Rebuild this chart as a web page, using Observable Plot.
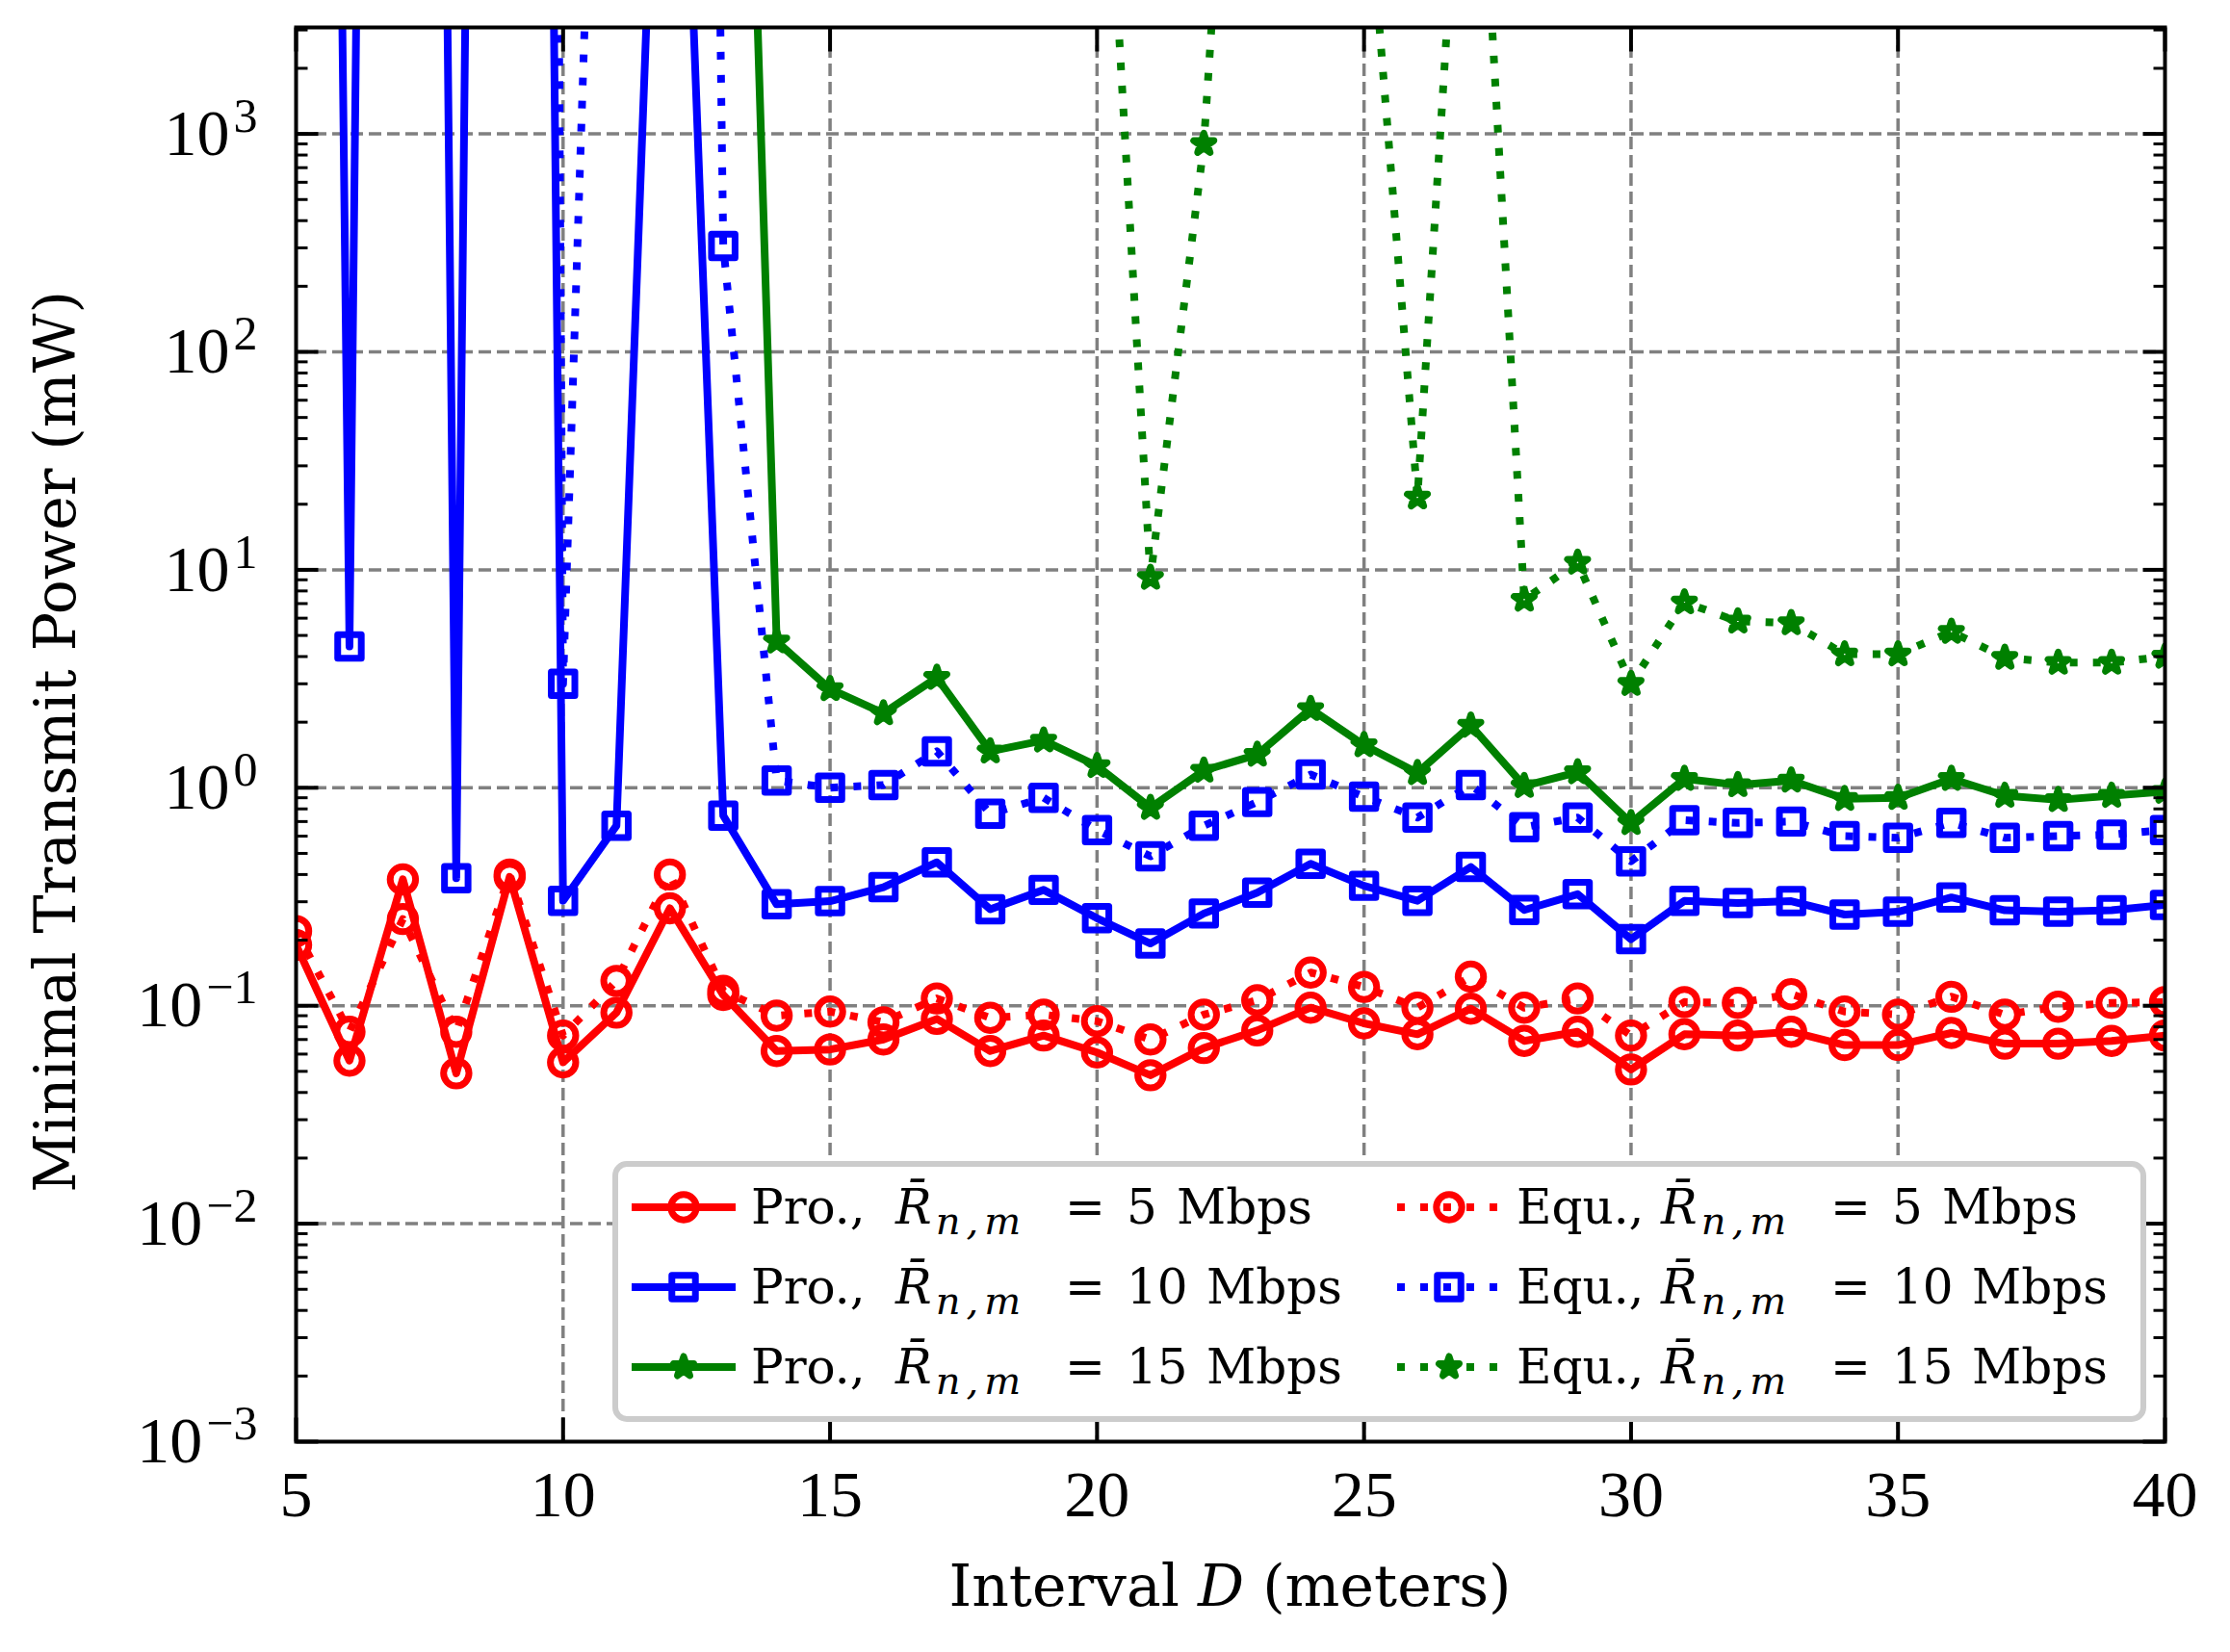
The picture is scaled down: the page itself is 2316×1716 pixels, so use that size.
<!DOCTYPE html>
<html>
<head>
<meta charset="utf-8">
<script src="https://cdn.jsdelivr.net/npm/d3@7"></script>
<script src="https://cdn.jsdelivr.net/npm/@observablehq/plot@0.6"></script>
<style>
  html, body { margin: 0; padding: 0; background: #fff; }
  #chart svg { display: block; }
</style>
</head>
<body>
<div id="chart"></div>
<script>
// ---------------- data ----------------
const distance = [5,6,7,8,9,10,11,12,13,14,15,16,17,18,19,20,21,22,23,24,25,26,27,28,29,30,31,32,33,34,35,36,37,38,39,40];

// Proposed scheme
const proR5  = [0.19,0.056,0.38,0.049,0.39,0.055,0.093,0.28,0.112,0.062,
                0.063,0.070,0.087,0.062,0.073,0.061,0.048,0.064,0.077,0.098,
                0.083,0.074,0.097,0.069,0.076,0.051,0.074,0.073,0.076,0.066,
                0.066,0.075,0.067,0.067,0.069,0.073];
const proR10 = [1e22,4.45,3e23,0.385,1e23,0.303,0.67,2.5e6,0.745,0.292,
                0.302,0.35,0.455,0.277,0.34,0.252,0.193,0.265,0.33,0.448,
                0.355,0.303,0.433,0.275,0.325,0.202,0.303,0.296,0.302,0.262,
                0.27,0.314,0.274,0.27,0.274,0.29];
const proR15 = [1e30,1e30,1e30,1e30,1e30,1e30,1e30,1e30,4e8,4.7,
                2.84,2.2,3.2,1.47,1.65,1.26,0.81,1.2,1.42,2.3,
                1.57,1.17,1.93,1.02,1.18,0.69,1.1,1.03,1.08,0.89,
                0.9,1.1,0.92,0.88,0.92,0.96];
// Equal allocation
const equR5  = [0.22,0.076,0.25,0.076,0.40,0.073,0.13,0.40,0.117,0.090,
                0.094,0.084,0.108,0.088,0.091,0.085,0.070,0.091,0.106,0.142,
                0.122,0.098,0.136,0.098,0.108,0.073,0.104,0.103,0.113,0.094,
                0.091,0.110,0.091,0.099,0.103,0.104];
const equR10 = [1e40,1e40,1e40,1e40,1e40,3.0,9e7,1e21,306,1.08,
                1.0,1.03,1.47,0.76,0.9,0.64,0.485,0.67,0.86,1.15,
                0.91,0.73,1.03,0.66,0.73,0.46,0.71,0.69,0.70,0.60,
                0.59,0.69,0.59,0.60,0.61,0.64];
const equR15 = [1e30,1e30,1e30,1e30,1e30,1e30,1e30,1e30,1e30,1e30,
                1e30,1e30,1e30,1e30,1e30,1.6e5,9.2,900,5e6,1e12,
                2.3e4,21.5,1.7e5,7.3,10.8,3.0,7.1,5.8,5.7,4.1,
                4.1,5.2,3.95,3.75,3.75,4.0];

const schemes = ["Pro.", "Pro.", "Pro.", "Equ.", "Equ.", "Equ."];
const rates = [5, 10, 15, 5, 10, 15];
const seriesValues = [proR5, proR10, proR15, equR5, equR10, equR15];

const xTicks = [5,10,15,20,25,30,35,40];
const yTicks = [1e-3,1e-2,1e-1,1e0,1e1,1e2,1e3];
const yDomain = [1e-3, 3080];

// ---------------- styles ----------------
const colorOf = {5: "#ff0000", 10: "#0000ff", 15: "#008000"};
const symbolOf = {5: "circle", 10: "square", 15: "star"};
const rOf = {5: 13.2, 10: 13.8, 15: 6.6};
const LW = 8;
const MW = 7;
const DOT = "8,16";

const W = 2316, H = 1716;
const mL = 307, mR = 68, mT = 28, mB = 219;
const fx0 = mL, fx1 = W - mR, fy0 = mT, fy1 = H - mB;

const rows = seriesValues.map((vals, s) =>
  distance.map((d, i) => ({D: d, P: vals[i], scheme: schemes[s], rate: rates[s]}))
);

const yMinor = yTicks.flatMap(t => [2,3,4,5,6,7,8,9].map(k => k * t)).filter(v => v < yDomain[1]);

const tickShape = {draw(ctx, l) { ctx.moveTo(0, 0); ctx.lineTo(0, -l); }};
const tickOpts = {shape: tickShape, anchor: "start", stroke: "black", strokeWidth: 4, strokeLinecap: "butt"};

const gridStyle = {stroke: "#808080", strokeOpacity: 1, strokeWidth: 3.5, strokeDasharray: "13,6"};

const seriesMarks = rows.flatMap((data, s) => {
  const rate = rates[s];
  const dashed = schemes[s] === "Equ.";
  return [
    Plot.line(data, {x: "D", y: "P", stroke: colorOf[rate], strokeWidth: LW,
      strokeDasharray: dashed ? DOT : null, strokeLinejoin: "round",
      strokeLinecap: dashed ? "butt" : "square", clip: true}),
    Plot.dot(data, {x: "D", y: "P", symbol: symbolOf[rate], r: rOf[rate],
      stroke: colorOf[rate], fill: "none", strokeWidth: MW, strokeLinejoin: "round", clip: true})
  ];
});

const svg = Plot.plot({
  width: W, height: H,
  marginLeft: mL, marginRight: mR, marginTop: mT, marginBottom: mB,
  style: {background: "white", fontFamily: "Liberation Serif", overflow: "visible"},
  x: {type: "linear", domain: [5, 40]},
  y: {type: "log", domain: yDomain},
  marks: [
    Plot.gridX(xTicks.slice(1, -1), gridStyle),
    Plot.gridY(yTicks.slice(1), gridStyle),
    ...seriesMarks,
    Plot.frame({stroke: "black", strokeWidth: 4}),
    // inward ticks
    Plot.vector(xTicks, {x: d => d, frameAnchor: "bottom", rotate: 0, length: 25, ...tickOpts}),
    Plot.vector(xTicks, {x: d => d, frameAnchor: "top", rotate: 180, length: 25, ...tickOpts}),
    Plot.vector(yTicks, {y: d => d, frameAnchor: "left", rotate: 90, length: 23, ...tickOpts}),
    Plot.vector(yTicks, {y: d => d, frameAnchor: "right", rotate: -90, length: 23, ...tickOpts}),
    Plot.vector(yMinor, {y: d => d, frameAnchor: "left", rotate: 90, length: 12, ...tickOpts, strokeWidth: 3}),
    Plot.vector(yMinor, {y: d => d, frameAnchor: "right", rotate: -90, length: 12, ...tickOpts, strokeWidth: 3}),
    Plot.axisX(xTicks, {tickSize: 0, tickPadding: 29, fontSize: 68, fontFamily: "Liberation Serif",
      tickFormat: d => String(d), label: null, fill: "black"}),
    Plot.axisY(yTicks, {tickSize: 0, tickPadding: 40, fontSize: 68, fontFamily: "Liberation Serif",
      tickFormat: d => "10^" + Math.round(Math.log10(d)), label: null, fill: "black"})
  ]
});

const root = d3.select(svg);

// superscript exponents for y tick labels
root.selectAll('g[aria-label="y-axis tick label"] text').each(function() {
  const s = this.textContent;
  const parts = s.split("^");
  const t = d3.select(this);
  t.text(null);
  t.append("tspan").text(parts[0]);
  t.append("tspan").attr("dx", 4).attr("dy", -24).attr("font-size", 50)
    .text(parts[1].replace("-", "\u2212"));
});

// axis titles
const xt = root.append("text")
  .attr("x", (fx0 + fx1) / 2).attr("y", 1668)
  .attr("text-anchor", "middle").attr("font-family", "DejaVu Serif").attr("font-size", 60)
  .attr("fill", "black");
xt.append("tspan").text("Interval ");
xt.append("tspan").attr("font-style", "italic").text("D");
xt.append("tspan").text(" (meters)");

root.append("text")
  .attr("transform", `translate(78,${(fy0 + fy1) / 2 + 8}) rotate(-90)`)
  .attr("text-anchor", "middle").attr("font-family", "DejaVu Serif").attr("font-size", 60)
  .attr("fill", "black")
  .text("Minimal Transmit Power (mW)");

// legend
const lgX1 = fx1 - 22, lgY1 = fy1 - 23;
const lgW = 1587, lgH = 265;
const lgX0 = lgX1 - lgW, lgY0 = lgY1 - lgH;
const lg = root.append("g").attr("aria-label", "legend");
lg.append("rect").attr("x", lgX0).attr("y", lgY0).attr("width", lgW).attr("height", lgH)
  .attr("rx", 12).attr("fill", "white").attr("stroke", "#cccccc").attr("stroke-width", 6);

const rowY = [45, 128, 211];
const colX = [17, 812];
schemes.forEach((sch, s) => {
  const rate = rates[s];
  const col = sch === "Pro." ? 0 : 1;
  const row = [5, 10, 15].indexOf(rate);
  const x0 = lgX0 + colX[col], y = lgY0 + rowY[row];
  const dashed = sch === "Equ.";
  lg.append("line").attr("x1", x0).attr("x2", x0 + 108).attr("y1", y).attr("y2", y)
    .attr("stroke", colorOf[rate]).attr("stroke-width", LW)
    .attr("stroke-dasharray", dashed ? DOT : null);
  const symType = {circle: d3.symbolCircle, square: d3.symbolSquare, star: d3.symbolStar}[symbolOf[rate]];
  lg.append("path").attr("transform", `translate(${x0 + 54},${y})`)
    .attr("d", d3.symbol(symType, Math.PI * rOf[rate] * rOf[rate])())
    .attr("fill", "none").attr("stroke", colorOf[rate]).attr("stroke-width", MW)
    .attr("stroke-linejoin", "round");
  const tx = x0 + 124;
  const numW = rate < 10 ? 26 : 57;
  const t = lg.append("text").attr("x", tx).attr("y", y + 17)
    .attr("text-anchor", "start")
    .attr("font-family", "DejaVu Serif").attr("font-size", 50).attr("fill", "black");
  t.append("tspan").text(sch + ",");
  t.append("tspan").attr("x", tx + 150).attr("font-style", "italic").text("R\u0304");
  t.append("tspan").attr("font-style", "italic").attr("font-size", 40).attr("letter-spacing", 6)
    .attr("dx", 4).attr("dy", 11).text("n,m");
  t.append("tspan").attr("x", tx + 326).attr("dy", -11).attr("letter-spacing", 0).text("=");
  t.append("tspan").attr("x", tx + 390).text(String(rate));
  t.append("tspan").attr("x", tx + 390 + numW + 26).text("Mbps");
});

document.getElementById("chart").appendChild(svg);
</script>
</body>
</html>
